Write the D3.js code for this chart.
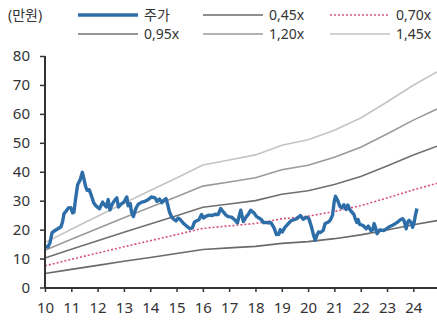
<!DOCTYPE html>
<html><head><meta charset="utf-8">
<script src="https://cdn.jsdelivr.net/npm/d3@7/dist/d3.min.js"></script>
<style>
html,body{margin:0;padding:0;background:#fff;}
text{font-family:"Noto Sans","Noto Sans CJK KR",sans-serif;}
</style></head>
<body>
<svg id="chart" width="437" height="324"></svg>
<script>
// ---- data ----
const yTicks = [0,10,20,30,40,50,60,70,80];
const xTickYears = [2010,2011,2012,2013,2014,2015,2016,2017,2018,2019,2020,2021,2022,2023,2024];
const xTickLabels = ["10","11","12","13","14","15","16","17","18","19","20","21","22","23","24"];

// BPS path (만원) by year
const bpsYears = [2010,2011,2012,2013,2014,2015,2016,2017,2018,2019,2020,2021,2022,2023,2024,2024.9];
const bpsValues = [10.7,13.9,17.0,20.1,23.1,26.1,29.2,30.4,31.6,33.9,35.2,37.5,40.4,44.2,48.2,51.4];

const multiples = [0.45,0.70,0.95,1.20,1.45];
const multipleLabels = ["0,45x","0,70x","0,95x","1,20x","1,45x"];

// Stock price (만원)
const priceYears = [2010.00,2010.11,2010.19,2010.27,2010.38,2010.49,2010.61,2010.67,2010.72,2010.81,2010.89,2010.98,2011.05,2011.10,2011.16,2011.24,2011.33,2011.42,2011.48,2011.54,2011.60,2011.68,2011.78,2011.85,2011.94,2012.07,2012.19,2012.26,2012.33,2012.40,2012.47,2012.54,2012.62,2012.73,2012.79,2012.89,2013.00,2013.11,2013.16,2013.24,2013.29,2013.36,2013.43,2013.48,2013.55,2013.68,2013.80,2013.93,2014.05,2014.18,2014.26,2014.35,2014.44,2014.52,2014.60,2014.67,2014.73,2014.82,2014.91,2014.98,2015.06,2015.14,2015.27,2015.40,2015.51,2015.60,2015.68,2015.75,2015.85,2015.95,2016.03,2016.11,2016.23,2016.36,2016.47,2016.58,2016.68,2016.77,2016.87,2016.96,2017.09,2017.21,2017.31,2017.44,2017.54,2017.64,2017.72,2017.82,2017.94,2018.04,2018.13,2018.22,2018.31,2018.41,2018.49,2018.59,2018.71,2018.80,2018.89,2018.94,2019.02,2019.12,2019.25,2019.37,2019.46,2019.57,2019.71,2019.81,2019.94,2020.03,2020.13,2020.21,2020.27,2020.33,2020.40,2020.47,2020.58,2020.64,2020.77,2020.85,2020.93,2020.99,2021.04,2021.12,2021.21,2021.28,2021.36,2021.45,2021.51,2021.59,2021.67,2021.74,2021.79,2021.85,2021.90,2021.96,2022.08,2022.21,2022.29,2022.39,2022.46,2022.51,2022.57,2022.62,2022.72,2022.81,2022.88,2022.96,2023.07,2023.21,2023.30,2023.40,2023.51,2023.59,2023.64,2023.73,2023.78,2023.84,2023.91,2023.97,2024.02,2024.08,2024.14];
const priceValues = [14.2,14.0,15.5,19.0,19.7,20.3,21.0,22.8,25.5,26.5,27.5,27.6,25.8,26.0,30.5,35.5,37.1,39.8,37.5,35.0,33.6,33.8,31.3,29.3,28.2,27.2,29.5,28.6,27.8,30.4,26.8,28.5,29.8,31.0,27.8,28.8,29.5,31.3,28.2,29.0,26.0,24.5,26.7,27.8,28.8,29.5,29.8,30.4,31.3,31.0,29.8,30.6,29.3,30.2,30.7,28.4,26.1,24.3,23.5,23.0,24.0,23.5,22.1,21.1,20.3,20.6,22.6,23.0,23.4,25.2,24.0,24.6,25.0,24.9,25.3,25.2,27.3,26.2,25.1,24.5,24.3,23.4,22.3,26.7,22.8,24.3,25.2,26.7,25.8,24.5,24.0,23.5,22.4,22.5,22.3,22.4,20.5,18.3,18.4,20.0,19.2,20.8,22.1,23.2,23.4,23.8,24.9,23.6,24.3,23.8,20.9,18.0,16.3,18.0,19.2,19.0,19.8,22.0,22.6,23.4,25.0,29.5,31.5,30.2,28.0,27.5,28.6,27.0,28.5,26.8,26.0,25.3,23.8,22.5,23.5,21.8,21.5,20.3,21.2,19.6,20.0,22.1,20.5,18.6,19.9,19.8,19.7,20.2,20.9,21.5,22.0,22.6,23.4,23.8,23.3,20.3,22.5,23.2,22.5,20.8,22.0,25.0,27.3];

// ---- chart ----
const svg = d3.select("#chart");
const x = d3.scaleLinear().domain([2010, 2024.9]).range([45, 437]);
const y = d3.scaleLinear().domain([0, 80]).range([287.5, 56]);

const bandStyles = [
  {color:"#6a6a6a", dash:null, width:1.6},
  {color:"#d9507f", dash:"2,2", width:1.6},
  {color:"#707070", dash:null, width:1.6},
  {color:"#9a9a9a", dash:null, width:1.6},
  {color:"#c4c4c4", dash:null, width:1.6}
];

const bandLine = d3.line().x(d => x(d.t)).y(d => y(d.v));
multiples.forEach((m, i) => {
  const pts = bpsYears.map((t, j) => ({t, v: bpsValues[j] * m}));
  svg.append("path").attr("d", bandLine(pts))
    .attr("fill","none").attr("stroke", bandStyles[i].color)
    .attr("stroke-width", bandStyles[i].width)
    .attr("stroke-dasharray", bandStyles[i].dash);
});

const pricePts = priceYears.map((t, j) => ({t, v: priceValues[j]}));
svg.append("path").attr("d", bandLine(pricePts))
  .attr("fill","none").attr("stroke","#2e6ea8").attr("stroke-width",3.4)
  .attr("stroke-linejoin","round");

// axes
const yAxis = d3.axisLeft(y).tickValues(yTicks).tickSize(5).tickPadding(10).tickFormat(d3.format("d"));
const gy = svg.append("g").attr("transform","translate(45,0)").call(yAxis);
const xAxis = d3.axisBottom(x).tickValues(xTickYears).tickSize(4).tickPadding(10)
  .tickFormat((d,i) => xTickLabels[i]);
const gx = svg.append("g").attr("transform","translate(0,288)").call(xAxis);
[gx, gy].forEach(g => {
  g.select(".domain").attr("stroke","#333").attr("stroke-width",2);
  g.selectAll(".tick line").attr("stroke","#333").attr("stroke-width",1.5);
  g.selectAll(".tick text").attr("fill","#333").style("font-size","15px");
});
gx.select(".domain").attr("d","M45,0H437");
gy.select(".domain").attr("d","M0,56V288");

// legend
svg.append("text").attr("x",8).attr("y",20).attr("fill","#333").style("font-size","14px").text("(만원)");
const legendItems = [
  {label:"주가", color:"#2e6ea8", dash:null, width:3.4, col:0, row:0},
  {label:multipleLabels[0], ...bandStyles[0], col:1, row:0},
  {label:multipleLabels[1], ...bandStyles[1], col:2, row:0},
  {label:multipleLabels[2], ...bandStyles[2], col:0, row:1},
  {label:multipleLabels[3], ...bandStyles[3], col:1, row:1},
  {label:multipleLabels[4], ...bandStyles[4], col:2, row:1}
];
const colX = [78, 203, 330];
const rowY = [15, 34];
legendItems.forEach(it => {
  const lx = colX[it.col], ly = rowY[it.row];
  svg.append("line").attr("x1",lx).attr("x2",lx+60).attr("y1",ly).attr("y2",ly)
    .attr("stroke",it.color).attr("stroke-width",it.width).attr("stroke-dasharray",it.dash);
  svg.append("text").attr("x",lx+66).attr("y",ly+5).attr("fill","#333")
    .style("font-size","14px").text(it.label);
});
</script>
</body></html>
